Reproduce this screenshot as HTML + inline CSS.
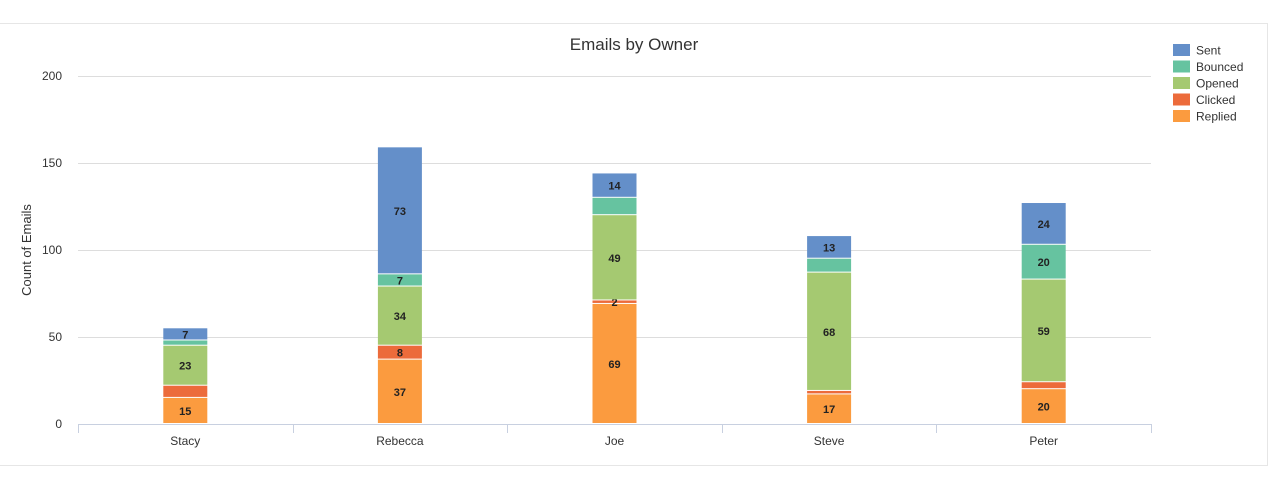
<!DOCTYPE html>
<html><head><meta charset="utf-8"><style>
html,body{margin:0;padding:0;background:#fff;width:1272px;height:488px;overflow:hidden}
svg{display:block;font-family:"Liberation Sans",sans-serif}
</style></head><body>
<svg id="c" width="1272" height="488">
<line x1="0" y1="23.5" x2="1268" y2="23.5" stroke="#e6e6e6"/>
<line x1="0" y1="465.5" x2="1268" y2="465.5" stroke="#e6e6e6"/>
<line x1="1267.5" y1="23" x2="1267.5" y2="466" stroke="#e6e6e6"/>
<text x="634" y="50" text-anchor="middle" font-size="17" fill="#333">Emails by Owner</text>
<text transform="translate(31,250) rotate(-90)" text-anchor="middle" font-size="13" fill="#333">Count of Emails</text>
<g id="grid"></g><g id="bars"></g><g id="legend"></g>
</svg>
<script>
const categories=["Stacy","Rebecca","Joe","Steve","Peter"];
const seriesNames=["Replied","Clicked","Opened","Bounced","Sent"];
const replied=[15,37,69,17,20];
const clicked=[7,8,2,2,4];
const opened=[23,34,49,68,59];
const bounced=[3,7,10,8,20];
const sent=[7,73,14,13,24];
const yTicks=[0,50,100,150,200];
const showLabel=[[1,1,1,1,1],[0,1,1,0,0],[1,1,1,1,1],[0,1,0,0,1],[1,1,1,1,1]];
const series=[replied,clicked,opened,bounced,sent];
const colors=["#fb9b3f","#ec6b3b","#a5c971","#66c3a0","#648fc9"];
const NS="http://www.w3.org/2000/svg";
const x0=78,x1=1151,yb=424,yt=76;
const y=v=>yb-(v/200)*(yb-yt);
const band=(x1-x0)/categories.length;
const xc=i=>x0+band*(i+0.5);
function mk(t,a,p){const e=document.createElementNS(NS,t);for(const k in a)e.setAttribute(k,a[k]);p.appendChild(e);return e;}
const g=document.getElementById('grid');
yTicks.forEach(t=>{
 const l=mk('line',{x1:x0,x2:x1,y1:Math.round(y(t))+0.5,y2:Math.round(y(t))+0.5,stroke:t===0?'#c8d0e0':'#ddd'},g);
 
 
 const tx=mk('text',{x:62,y:y(t)+4,'text-anchor':'end','font-size':12,fill:'#333'},g);tx.textContent=t;
 
 
});
for(let i=0;i<=categories.length;i++){
 const l=mk('line',{x1:Math.round(x0+band*i)+0.5,x2:Math.round(x0+band*i)+0.5,y1:yb,y2:yb+9,stroke:'#c8d0e0'},g);
 
 
}
const b=document.getElementById('bars');
categories.forEach((c,i)=>{
 let acc=0;const bw=44;
 series.forEach((s,k)=>{
  const v=s[i];const top=y(acc+v),bot=y(acc);
  const r=mk('rect',{x:xc(i)-bw/2,y:top,width:bw,height:Math.max(0,bot-top-1),fill:colors[k]},b);
  
  
  if(showLabel[k][i]){
   const t=mk('text',{x:xc(i),y:(top+bot)/2+4,'text-anchor':'middle','font-size':11,'font-weight':'bold',fill:'#222'},b);t.textContent=v;
   
   
  }
  acc+=v;
 });
 const t=mk('text',{x:xc(i),y:445,'text-anchor':'middle','font-size':12,fill:'#333'},b);t.textContent=c;
 
 
});
const lg=document.getElementById('legend');
["Sent","Bounced","Opened","Clicked","Replied"].forEach((n,j)=>{
 const k=4-j;const yy=44+j*16.5;
 const r=mk('rect',{x:1173,y:yy,width:17,height:12,fill:colors[k]},lg);
 
 
 const t=mk('text',{x:1196,y:yy+10.5,'font-size':12,fill:'#333'},lg);t.textContent=n;
 
 
});
</script>
</body></html>
